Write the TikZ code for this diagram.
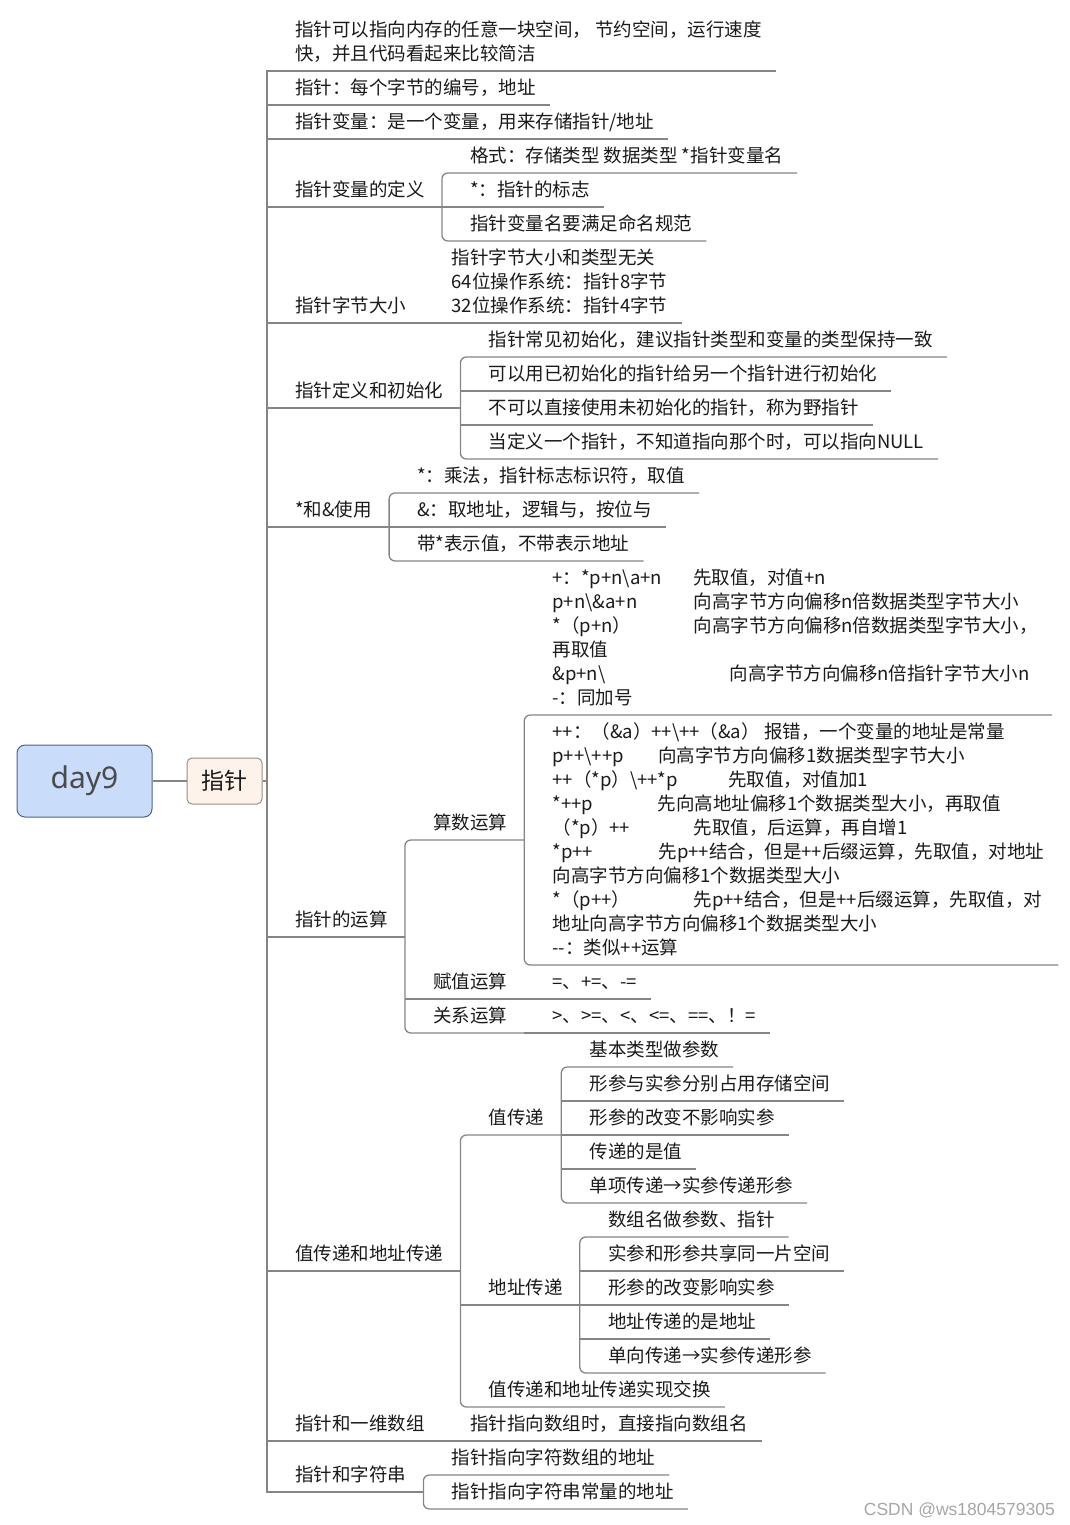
\documentclass[tikz,border=0pt]{standalone}
\usepackage{fontspec}
\usepackage{xcolor,tikz}
\usetikzlibrary{positioning,calc}
\newfontfamily\cjk{Noto Sans CJK SC}
\newfontfamily\rootfont{Noto Sans}
\newfontfamily\markfont{Liberation Sans}
\definecolor{mapLine}{HTML}{858585}
\definecolor{mapText}{HTML}{1A1A1A}
\definecolor{rootFill}{HTML}{C9DCFA}
\definecolor{rootLine}{HTML}{4A6391}
\definecolor{rootText}{HTML}{4A4A4A}
\definecolor{mainFill}{HTML}{FDF3EA}
\definecolor{mainLine}{HTML}{9A8D82}
\definecolor{markGrey}{HTML}{A6A6A6}

\newcommand{\mmrows}[1]{\begin{tabular}[b]{@{}l@{}}#1\end{tabular}}
\newcommand{\mmcol}[2]{\makebox[#1][l]{#2}}

\tikzset{
  branch/.style={draw=mapLine, line width=1.3pt},
  curved/.style={branch, rounded corners=6pt},
  topicbase/.style={anchor=south west, inner sep=0pt, text depth=10pt,
    text=mapText, font=\cjk\fontsize{18.5}{24}\selectfont},
  leaf/.style={topicbase, execute at begin node={\hspace*{28pt}},
    execute at end node={\hspace*{14pt}}},
  parent/.style={topicbase, execute at begin node={\hspace*{28pt}},
    execute at end node={\hspace*{17pt}}},
  rootbox/.style={draw=rootLine, fill=rootFill, line width=1pt,
    rounded corners=8pt, minimum width=135pt, minimum height=72pt,
    text=rootText, font=\rootfont\fontsize{30}{36}\selectfont},
  mainbox/.style={draw=mainLine, fill=mainFill, line width=1pt,
    rounded corners=5pt, minimum width=75pt, minimum height=46pt,
    text=mapText, font=\cjk\fontsize{23}{28}\selectfont},
}

\begin{document}
\begin{tikzpicture}[x=1pt, y=-1pt]
\useasboundingbox (0,0) rectangle (1069,1525);

\def\trunkX{267}

% --- ROOT AND MAIN TOPIC ---
\node[rootbox] (root) at (84.5,781) {day9};
\node[mainbox] (zz) at (224.5,781) {指针};
\draw[branch] (root.east) -- (zz.west);

% --- FIRST LEVEL ---
\node[leaf] (intro) at (\trunkX,71)
  {\mmrows{指针可以指向内存的任意一块空间， 节约空间，运行速度\\快，并且代码看起来比较简洁}};
\node[leaf] (addr) at (\trunkX,105) {指针：每个字节的编号，地址};
\node[leaf] (pvar) at (\trunkX,139) {指针变量：是一个变量，用来存储指针/地址};
\node[parent] (pdef) at (\trunkX,207) {指针变量的定义};
\node[parent] (psize) at (\trunkX,323) {指针字节大小};
\node[parent] (pinit) at (\trunkX,408) {指针定义和初始化};
\node[parent] (star) at (\trunkX,527) {*和\&使用};
\node[parent] (calc) at (\trunkX,937) {指针的运算};
\node[parent] (pass) at (\trunkX,1271) {值传递和地址传递};
\node[parent] (arr) at (\trunkX,1441) {指针和一维数组};
\node[parent] (str) at (\trunkX,1492) {指针和字符串};

\draw[branch] (zz.east) -- (zz.east -| intro.south west);
\draw[branch] (intro.south east) -- (intro.south west) -- (str.south west) -- (str.south east);
\foreach \nm in {addr,pvar,pdef,pinit,star,calc,pass}
  \draw[branch] (\nm.south west) -- (\nm.south east);

% --- POINTER DEFINITION ---
\foreach \nm/\yy/\txt in {pdefA/173/{格式：存储类型 数据类型 *指针变量名},
    pdefB/207/{*：指针的标志}, pdefC/241/{指针变量名要满足命名规范}}
  \node[leaf] (\nm) at (pdef.south east |- 0,\yy) {\txt};
\draw[curved] (pdefA.south east) -- (pdefA.south west) -- (pdefC.south west) -- (pdefC.south east);
\draw[branch] (pdefB.south west) -- (pdefB.south east);

% --- POINTER SIZE ---
\node[leaf] (psizeA) at (psize.south east |- 0,323)
  {\mmrows{指针字节大小和类型无关\\64位操作系统：指针8字节\\32位操作系统：指针4字节}};
\draw[branch] (psize.south west) -- (psizeA.south east);

% --- INITIALISATION ---
\foreach \nm/\yy/\txt in {pinitA/357/{指针常见初始化，建议指针类型和变量的类型保持一致},
    pinitB/391/{可以用已初始化的指针给另一个指针进行初始化},
    pinitC/425/{不可以直接使用未初始化的指针，称为野指针},
    pinitD/459/{当定义一个指针，不知道指向那个时，可以指向NULL}}
  \node[leaf] (\nm) at (pinit.south east |- 0,\yy) {\txt};
\draw[curved] (pinitA.south east) -- (pinitA.south west) -- (pinitD.south west) -- (pinitD.south east);
\foreach \nm in {pinitB,pinitC}
  \draw[branch] (\nm.south west) -- (\nm.south east);

% --- * AND & ---
\foreach \nm/\yy/\txt in {starA/493/{*：乘法，指针标志标识符，取值},
    starB/527/{\&：取地址，逻辑与，按位与}, starC/561/{带*表示值，不带表示地址}}
  \node[leaf] (\nm) at (star.south east |- 0,\yy) {\txt};
\draw[curved] (starA.south east) -- (starA.south west) -- (starC.south west) -- (starC.south east);
\draw[branch] (starB.south west) -- (starB.south east);

% --- POINTER ARITHMETIC ---
\node[parent] (arith) at (calc.south east |- 0,840) {算数运算};
\node[parent] (assign) at (calc.south east |- 0,999) {赋值运算};
\node[parent] (rel) at (calc.south east |- 0,1033) {关系运算};
\draw[curved] (arith.south east) -- (arith.south west) -- (rel.south west) -- (rel.south east);
\draw[branch] (assign.south west) -- (assign.south east);

\node[leaf] (arithA) at (arith.south east |- 0,715) {\mmrows{%
  \mmcol{141pt}{+：*p+n\textbackslash a+n}先取值，对值+n\\
  \mmcol{141pt}{p+n\textbackslash\&a+n}向高字节方向偏移n倍数据类型字节大小\\
  \mmcol{141pt}{*（p+n）}向高字节方向偏移n倍数据类型字节大小，\\
  再取值\\
  \mmcol{177pt}{\&p+n\textbackslash}向高字节方向偏移n倍指针字节大小n\\
  -：同加号}};
\node[leaf] (arithB) at (arith.south east |- 0,965) {\mmrows{%
  \mmcol{212pt}{++：（\&a）++\textbackslash++（\&a）}报错，一个变量的地址是常量\\
  \mmcol{106pt}{p++\textbackslash++p}向高字节方向偏移1数据类型字节大小\\
  \mmcol{176pt}{++（*p）\textbackslash++*p}先取值，对值加1\\
  \mmcol{105pt}{*++p}先向高地址偏移1个数据类型大小，再取值\\
  \mmcol{141pt}{（*p）++}先取值，后运算，再自增1\\
  \mmcol{106pt}{*p++}先p++结合，但是++后缀运算，先取值，对地址\\
  向高字节方向偏移1个数据类型大小\\
  \mmcol{141pt}{*（p++）}先p++结合，但是++后缀运算，先取值，对\\
  地址向高字节方向偏移1个数据类型大小\\
  -{}-：类似++运算}};
\draw[curved] (arithA.south east) -- (arithA.south west) -- (arithB.south west) -- (arithB.south east);

\node[leaf] (assignA) at (assign.south east |- 0,999) {=、+=、-=};
\node[leaf] (relA) at (rel.south east |- 0,1033) {>、>=、<、<=、==、！=};
\draw[branch] (assign.south east) -- (assignA.south east);
\draw[branch] (rel.south east) -- (relA.south east);

% --- VALUE AND ADDRESS PASSING ---
\node[parent] (byval) at (pass.south east |- 0,1135) {值传递};
\node[parent] (byref) at (pass.south east |- 0,1305) {地址传递};
\node[leaf] (swap) at (pass.south east |- 0,1407) {值传递和地址传递实现交换};
\draw[curved] (byval.south east) -- (byval.south west) -- (swap.south west) -- (swap.south east);
\draw[branch] (byref.south west) -- (byref.south east);

\foreach \nm/\yy/\txt in {byvalA/1067/{基本类型做参数},
    byvalB/1101/{形参与实参分别占用存储空间}, byvalC/1135/{形参的改变不影响实参},
    byvalD/1169/{传递的是值}, byvalE/1203/{单项传递→实参传递形参}}
  \node[leaf] (\nm) at (byval.south east |- 0,\yy) {\txt};
\draw[curved] (byvalA.south east) -- (byvalA.south west) -- (byvalE.south west) -- (byvalE.south east);
\foreach \nm in {byvalB,byvalC,byvalD}
  \draw[branch] (\nm.south west) -- (\nm.south east);

\foreach \nm/\yy/\txt in {byrefA/1237/{数组名做参数、指针},
    byrefB/1271/{实参和形参共享同一片空间}, byrefC/1305/{形参的改变影响实参},
    byrefD/1339/{地址传递的是地址}, byrefE/1373/{单向传递→实参传递形参}}
  \node[leaf] (\nm) at (byref.south east |- 0,\yy) {\txt};
\draw[curved] (byrefA.south east) -- (byrefA.south west) -- (byrefE.south west) -- (byrefE.south east);
\foreach \nm in {byrefB,byrefC,byrefD}
  \draw[branch] (\nm.south west) -- (\nm.south east);

% --- ARRAYS AND STRINGS ---
\node[leaf] (arrA) at (arr.south east |- 0,1441) {指针指向数组时，直接指向数组名};
\draw[branch] (arr.south west) -- (arrA.south east);

\node[leaf] (strA) at (str.south east |- 0,1475) {指针指向字符数组的地址};
\node[leaf] (strB) at (str.south east |- 0,1509) {指针指向字符串常量的地址};
\draw[curved] (strA.south east) -- (strA.south west) -- (strB.south west) -- (strB.south east);

% --- WATERMARK ---
\node[anchor=base east, inner sep=0pt, text=markGrey, font=\markfont\fontsize{17.5}{20}\selectfont]
  (mark) at (1055,1515) {CSDN @ws1804579305};

\end{tikzpicture}
\end{document}
